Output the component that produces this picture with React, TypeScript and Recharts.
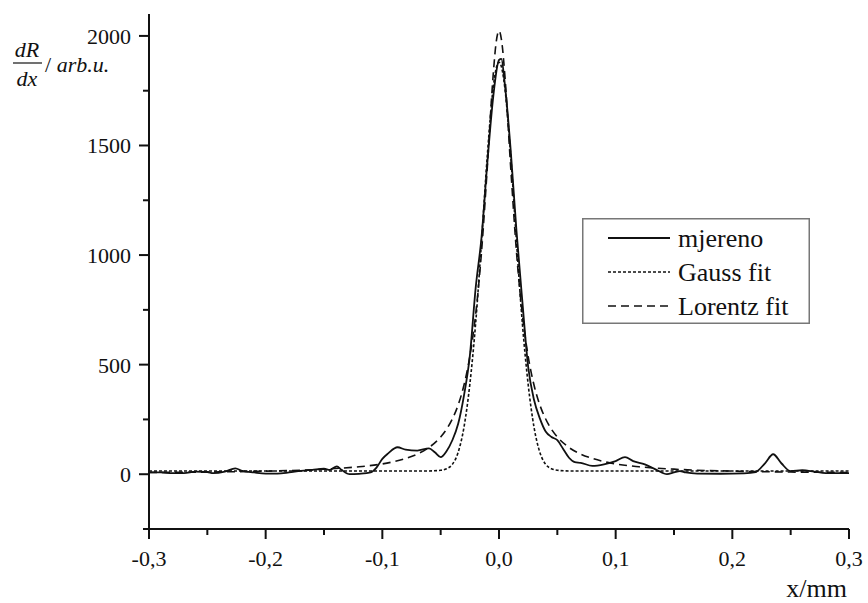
import { LineChart, Line, XAxis, YAxis } from "recharts";

const measuredX = [
  -0.3, -0.29, -0.28, -0.27, -0.26, -0.25, -0.245, -0.235, -0.226, -0.22, -0.21, -0.2, -0.19, -0.18,
  -0.17, -0.16, -0.15, -0.145, -0.139, -0.135, -0.128, -0.12, -0.11, -0.105, -0.1, -0.095, -0.087,
  -0.08, -0.07, -0.06, -0.055, -0.05, -0.045, -0.04, -0.035, -0.03, -0.025, -0.02, -0.015, -0.01,
  -0.005, 0, 0.002, 0.005, 0.01, 0.015, 0.02, 0.025, 0.03, 0.035, 0.04, 0.045, 0.05, 0.055, 0.06,
  0.065, 0.07, 0.08, 0.09, 0.1, 0.108, 0.115, 0.125, 0.135, 0.144, 0.15, 0.155, 0.16, 0.17, 0.19,
  0.21, 0.22, 0.228, 0.235, 0.242, 0.25, 0.26, 0.27, 0.28, 0.29, 0.3,
];
const measuredY = [
  8, 8, 5, 5, 12, 10, 5, 12, 27, 15, 8, 3, 3, 8,
  15, 20, 25, 20, 36, 20, 0, 2, 8, 30, 70, 95, 123,
  112, 108, 118, 100, 78, 105, 155, 230, 360, 540, 850, 1080, 1420,
  1720, 1890, 1895, 1780, 1480, 1110, 790, 490, 340, 255, 195, 170, 155, 115, 75,
  55, 52, 38, 45, 60, 78, 60, 45, 20, 0, 8, 14, 8, 3, 2,
  4, 10, 50, 91, 50, 14, 18, 12, 5, 5, 5,
];

const fitX = [
  -0.3, -0.25, -0.2, -0.15, -0.12, -0.1, -0.08, -0.07, -0.06, -0.05, -0.045, -0.04, -0.035, -0.03,
  -0.025, -0.02, -0.015, -0.01, -0.005, -0.0025, 0, 0.0025, 0.005, 0.01, 0.015, 0.02, 0.025, 0.03,
  0.035, 0.04, 0.045, 0.05, 0.06, 0.07, 0.08, 0.1, 0.12, 0.15, 0.2, 0.25, 0.3,
];
const gaussY = [
  15, 15, 15, 15, 15, 15, 15, 15, 15, 18, 25, 45, 100, 215,
  410, 690, 1060, 1455, 1763, 1850, 1880, 1850, 1763, 1455, 1060, 690, 410, 215,
  100, 45, 25, 18, 15, 15, 15, 15, 15, 15, 15, 15, 15,
];
const lorentzY = [
  8, 10, 14, 23, 34, 47, 72, 92, 122, 170, 205, 252, 316, 407,
  538, 730, 1013, 1402, 1821, 1968, 2023, 1968, 1821, 1402, 1013, 730, 538, 407,
  316, 252, 205, 170, 122, 92, 72, 47, 34, 23, 14, 10, 8,
];

const xTicks = [-0.3, -0.25, -0.2, -0.15, -0.1, -0.05, 0, 0.05, 0.1, 0.15, 0.2, 0.25, 0.3];
const yTicks = [-250, 0, 250, 500, 750, 1000, 1250, 1500, 1750, 2000];

const measured = measuredX.map((x, i) => ({ x, y: measuredY[i] }));
const gauss = fitX.map((x, i) => ({ x, y: gaussY[i] }));
const lorentz = fitX.map((x, i) => ({ x, y: lorentzY[i] }));

const FONT = "'Liberation Serif', 'DejaVu Serif', 'Noto Serif', serif";
const serif = { fontFamily: FONT };

const YTick = (props: any) => {
  const { x, y, payload } = props;
  const major = payload.value % 500 === 0;
  return (
    <g>
      <line x1={x - (major ? 10 : 6)} x2={x} y1={y} y2={y} stroke="#111" strokeWidth={2} />
      {major && (
        <text x={x - 18} y={y + 8} textAnchor="end" fontSize={22} style={serif} fill="#111">
          {payload.value}
        </text>
      )}
    </g>
  );
};

const XTick = (props: any) => {
  const { x, y, payload } = props;
  const major = Math.round(payload.value * 100) % 10 === 0;
  return (
    <g>
      <line x1={x} x2={x} y1={y} y2={y + (major ? 10 : 6)} stroke="#111" strokeWidth={2} />
      {major && (
        <text x={x} y={y + 37} textAnchor="middle" fontSize={22} style={serif} fill="#111">
          {payload.value.toFixed(1).replace(".", ",")}
        </text>
      )}
    </g>
  );
};

const legendRows = [
  { name: "mjereno", dash: undefined, width: 2 },
  { name: "Gauss fit", dash: "3 2", width: 1.6 },
  { name: "Lorentz fit", dash: "8 5", width: 1.6 },
];

const LegendBox = () => (
  <svg width={228} height={106} style={{ position: "absolute", left: 582, top: 218, display: "block" }}>
    <rect x={0.75} y={0.75} width={226.5} height={104.5} fill="#fff" stroke="#777" strokeWidth={1.5} />
    {legendRows.map((r, i) => (
      <g key={r.name}>
        <line x1={26} x2={88} y1={20 + i * 34} y2={20 + i * 34} stroke="#111" strokeWidth={r.width} strokeDasharray={r.dash} />
        <text x={96} y={29 + i * 34} fontSize={26} style={serif} fill="#111">
          {r.name}
        </text>
      </g>
    ))}
  </svg>
);

export default function App() {
  return (
    <div style={{ position: "absolute", left: 0, top: 0, width: 868, height: 603, background: "#fff", fontFamily: FONT }}>
      <LineChart width={868} height={603} margin={{ top: 14, right: 19, left: 89, bottom: 34 }} style={serif}>
        <XAxis
          type="number"
          dataKey="x"
          domain={[-0.3, 0.3]}
          ticks={xTicks}
          interval={0}
          allowDataOverflow
          height={40}
          axisLine={{ stroke: "#111", strokeWidth: 2 }}
          tickLine={false}
          tickSize={0}
          tickMargin={0}
          tick={<XTick />}
          label={{
            content: () => (
              <text x={847} y={597} textAnchor="end" fontSize={26} style={serif} fill="#111">
                x/mm
              </text>
            ),
          }}
        />
        <YAxis
          type="number"
          dataKey="y"
          domain={[-250, 2100]}
          ticks={yTicks}
          interval={0}
          allowDataOverflow
          width={60}
          axisLine={{ stroke: "#111", strokeWidth: 2 }}
          tickLine={false}
          tickSize={0}
          tickMargin={0}
          tick={<YTick />}
          label={{
            content: () => (
              <g style={serif} fill="#111">
                <text x={27} y={57} textAnchor="middle" fontSize={22} fontStyle="italic" style={serif}>dR</text>
                <line x1={13} x2={42} y1={63} y2={63} stroke="#111" strokeWidth={1.2} />
                <text x={27} y={86} textAnchor="middle" fontSize={22} fontStyle="italic" style={serif}>dx</text>
                <text x={45} y={72} fontSize={22} style={serif}>
                  /<tspan fontStyle="italic"> arb.u.</tspan>
                </text>
              </g>
            ),
          }}
        />
        <Line data={gauss} dataKey="y" type="monotone" stroke="#111" strokeWidth={1.6} strokeDasharray="3 2" dot={false} isAnimationActive={false} name="Gauss fit" />
        <Line data={lorentz} dataKey="y" type="monotone" stroke="#111" strokeWidth={1.6} strokeDasharray="8 5" dot={false} isAnimationActive={false} name="Lorentz fit" />
        <Line data={measured} dataKey="y" type="monotone" stroke="#111" strokeWidth={1.8} dot={false} isAnimationActive={false} name="mjereno" />
      </LineChart>
      <LegendBox />
    </div>
  );
}
